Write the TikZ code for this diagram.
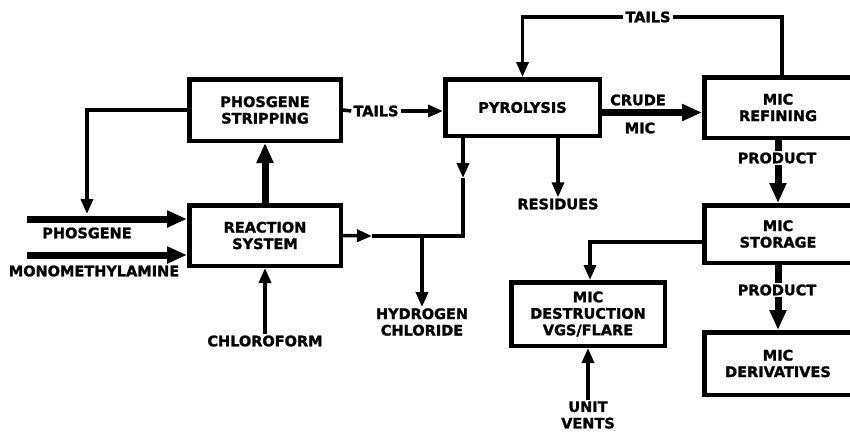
\documentclass[tikz,border=0pt]{standalone}
\usepackage{fontspec}
\setmainfont{DejaVu Sans}[BoldFeatures={FakeBold=1.5}]
\usetikzlibrary{arrows.meta}
\tikzset{
  unit/.style={draw, line width=4.5pt, align=center, inner sep=2pt},
  lbl/.style={align=center, inner sep=1pt},
  tag/.style={lbl, fill=white, inner sep=2pt},
  pipe/.style={line width=3.5pt},
  flow/.style={pipe, -{Triangle[length=15pt,width=12pt]}},
  bigflow/.style={line width=7pt, -{Triangle[length=20pt,width=16pt]}},
}
\begin{document}
\begin{tikzpicture}[x=1pt, y=-1pt, font=\bfseries\fontsize{14.5}{16.5}\selectfont]
\useasboundingbox[fill=white] (0,0) rectangle (850,431);
\node[unit, minimum width=151.5pt, minimum height=61.5pt] (strip) at (265,110) {PHOSGENE\\STRIPPING};
\node[unit, minimum width=151.5pt, minimum height=60.5pt] (react) at (265,235.5) {REACTION\\SYSTEM};
\node[unit, minimum width=154.5pt, minimum height=56.5pt] (pyro) at (522.5,107.5) {PYROLYSIS};
\node[unit, minimum width=147.5pt, minimum height=60.5pt] (refine) at (778,107.5) {MIC\\REFINING};
\node[unit, minimum width=147.5pt, minimum height=57.5pt] (store) at (778,234) {MIC\\STORAGE};
\node[unit, minimum width=153.5pt, minimum height=63.5pt] (destroy) at (588,314) {MIC\\DESTRUCTION\\VGS/FLARE};
\node[unit, minimum width=147.5pt, minimum height=62.5pt] (deriv) at (778,363.5) {MIC\\DERIVATIVES};

\coordinate (phin) at (27,219);
\coordinate (mmin) at (27,255);
\coordinate (recyc) at (87,214);
\coordinate (pymid) at (463,178);
\coordinate (rxmid) at (372,236);
\coordinate (hcsplit) at (422,236);

\node[lbl] (phlab) at (87,233) {PHOSGENE};
\node[lbl] (mmlab) at (94,271) {MONOMETHYLAMINE};
\node[lbl] (chcl3) at (265,341) {CHLOROFORM};
\node[lbl] (hcl) at (422,322) {HYDROGEN\\CHLORIDE};
\node[lbl] (resid) at (558,204) {RESIDUES};
\node[lbl] (crude) at (638,100) {CRUDE};
\node[lbl] (cmic) at (640,128) {MIC};
\node[lbl] (vents) at (588,415) {UNIT\\VENTS};

\draw[flow] (strip.west) -| (recyc);
\draw[bigflow] (phin) -- (phin -| react.west);
\draw[bigflow] (mmin) -- (mmin -| react.west);
\draw[bigflow] (react.north) -- (strip.south);
\draw[flow] (chcl3.north) -- (react.south);

\node[tag] (tails1) at (376,111) {TAILS};
\draw[pipe] (strip.east) -- (tails1.west);
\draw[flow] (tails1.east) -- (tails1 -| pyro.west);

\draw[bigflow] ([yshift=-5pt]pyro.east) -- ([yshift=-5pt]pyro.east -| refine.west);
\draw[flow] (pyro.south -| resid) -- (resid.north);

\draw[flow] (pyro.south -| pymid) -- (pymid);
\draw[pipe] (pymid) |- (hcsplit);
\draw[flow] (react.east) -- (rxmid);
\draw[pipe] (rxmid) -- (hcsplit);
\draw[flow] (hcsplit) -- (hcl.north);

\node[tag] (tails2) at (648,17) {TAILS};
\draw[pipe] ([xshift=4pt]refine.north) |- (tails2.east);
\draw[flow] (tails2.west) -| (pyro.north);

\draw[bigflow] (refine.south) -- (store.north);
\node[tag] (prod1) at (777,158) {PRODUCT};
\draw[flow] ([yshift=-8pt]store.west) -| ([xshift=2pt]destroy.north);
\draw[bigflow] (store.south) -- (deriv.north);
\node[tag] (prod2) at (777,290) {PRODUCT};
\draw[flow] (vents.north) -- (destroy.south);
\end{tikzpicture}
\end{document}
